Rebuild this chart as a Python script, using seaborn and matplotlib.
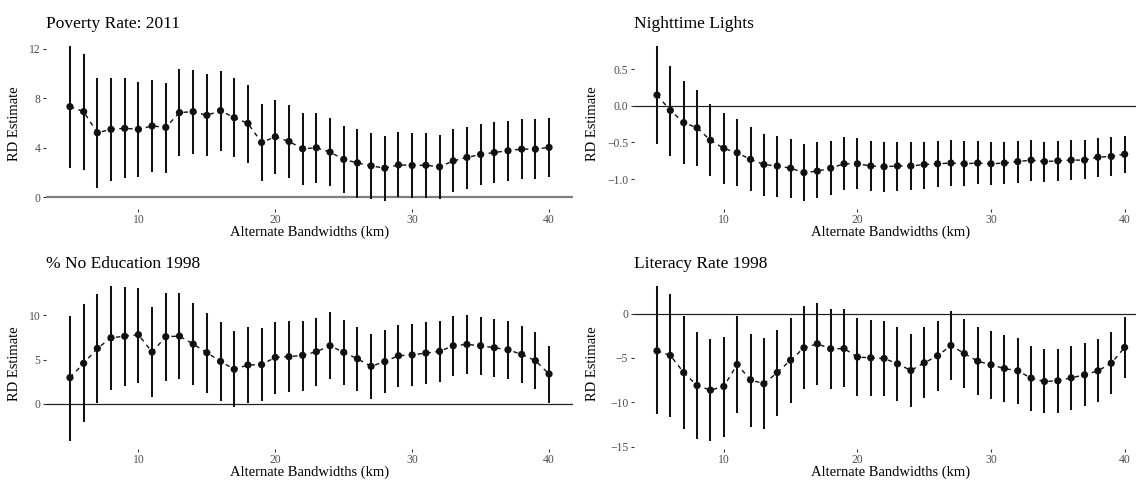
import numpy as np
import pandas as pd
import matplotlib
matplotlib.use("Agg")
import matplotlib.pyplot as plt
import seaborn as sns

# Bandwidths (km)
bandwidths = list(range(5, 41))

# Poverty Rate: 2011
poverty_est = [7.32, 6.92, 5.21, 5.49, 5.57, 5.49, 5.76, 5.65, 6.84, 6.92, 6.62, 7.00,
               6.43, 5.97, 4.43, 4.89, 4.51, 3.92, 4.00, 3.65, 3.06, 2.78, 2.54, 2.35,
               2.62, 2.57, 2.59, 2.46, 2.94, 3.22, 3.46, 3.62, 3.76, 3.89, 3.89, 4.03]
poverty_lo = [2.38, 2.19, 0.79, 1.30, 1.57, 1.65, 2.05, 2.00, 3.35, 3.49, 3.35, 3.76,
              3.27, 2.81, 1.35, 1.89, 1.57, 1.03, 1.16, 0.89, 0.35, -0.05, -0.16, -0.32,
              0.00, -0.08, -0.03, -0.16, 0.43, 0.70, 0.97, 1.19, 1.30, 1.46, 1.46, 1.65]
poverty_hi = [12.20, 11.57, 9.60, 9.65, 9.60, 9.30, 9.46, 9.22, 10.38, 10.30, 9.92, 10.24,
              9.65, 9.06, 7.52, 7.89, 7.43, 6.79, 6.79, 6.43, 5.76, 5.49, 5.16, 4.97,
              5.24, 5.16, 5.16, 5.03, 5.49, 5.70, 5.92, 6.06, 6.16, 6.30, 6.30, 6.41]

# Nighttime Lights
lights_est = [0.146, -0.063, -0.23, -0.30, -0.47, -0.58, -0.64, -0.73, -0.80, -0.82, -0.85, -0.91,
              -0.89, -0.85, -0.79, -0.79, -0.82, -0.83, -0.82, -0.82, -0.80, -0.79, -0.78, -0.79,
              -0.78, -0.79, -0.78, -0.76, -0.74, -0.76, -0.75, -0.74, -0.74, -0.70, -0.69, -0.66]
lights_lo = [-0.52, -0.68, -0.79, -0.82, -0.96, -1.06, -1.09, -1.16, -1.23, -1.24, -1.25, -1.30,
             -1.26, -1.22, -1.15, -1.14, -1.16, -1.17, -1.16, -1.15, -1.13, -1.10, -1.09, -1.09,
             -1.07, -1.08, -1.07, -1.05, -1.02, -1.04, -1.03, -1.01, -1.00, -0.97, -0.95, -0.92]
lights_hi = [0.81, 0.54, 0.34, 0.22, 0.02, -0.10, -0.18, -0.29, -0.38, -0.41, -0.45, -0.52,
             -0.50, -0.48, -0.42, -0.44, -0.48, -0.50, -0.50, -0.50, -0.49, -0.48, -0.47, -0.48,
             -0.48, -0.50, -0.50, -0.48, -0.46, -0.49, -0.48, -0.47, -0.47, -0.44, -0.43, -0.41]

# % No Education 1998
noedu_est = [2.96, 4.57, 6.25, 7.45, 7.62, 7.80, 5.84, 7.57, 7.64, 6.74, 5.77, 4.79,
             3.90, 4.38, 4.42, 5.24, 5.32, 5.47, 5.88, 6.55, 5.81, 5.09, 4.23, 4.76,
             5.43, 5.51, 5.73, 5.92, 6.55, 6.70, 6.55, 6.33, 6.10, 5.58, 4.87, 3.37]
noedu_lo = [-4.16, -2.10, 0.07, 1.54, 2.06, 2.40, 0.75, 2.58, 2.81, 2.13, 1.27, 0.37,
            -0.37, 0.15, 0.34, 1.09, 1.31, 1.50, 2.02, 2.77, 2.10, 1.42, 0.60, 1.20,
            1.95, 2.02, 2.28, 2.43, 3.15, 3.33, 3.22, 3.03, 2.81, 2.32, 1.69, 0.07]
noedu_hi = [9.93, 11.24, 12.36, 13.26, 13.15, 13.07, 10.94, 12.55, 12.55, 11.39, 10.26, 9.18,
            8.20, 8.61, 8.58, 9.21, 9.33, 9.36, 9.70, 10.30, 9.48, 8.69, 7.83, 8.31,
            8.88, 8.95, 9.18, 9.33, 9.89, 10.00, 9.81, 9.59, 9.36, 8.76, 8.05, 6.52]

# Literacy Rate 1998
literacy_est = [-4.20, -4.72, -6.64, -8.10, -8.62, -8.21, -5.74, -7.46, -7.91, -6.64, -5.25, -3.86,
                -3.41, -3.97, -3.94, -4.90, -4.99, -5.06, -5.66, -6.41, -5.55, -4.76, -3.60, -4.50,
                -5.36, -5.77, -6.19, -6.45, -7.27, -7.65, -7.57, -7.24, -6.90, -6.45, -5.59, -3.82]
literacy_lo = [-11.36, -11.62, -12.94, -14.10, -14.32, -13.87, -11.14, -12.75, -13.01, -11.55, -10.05, -8.51,
               -7.99, -8.55, -8.32, -9.26, -9.30, -9.30, -9.86, -10.50, -9.52, -8.74, -7.50, -8.36,
               -9.19, -9.60, -9.97, -10.16, -10.99, -11.25, -11.14, -10.84, -10.46, -9.94, -9.07, -7.27]
literacy_hi = [3.07, 2.14, -0.26, -2.10, -2.85, -2.66, -0.30, -2.25, -2.81, -1.80, -0.56, 0.82,
               1.20, 0.56, 0.49, -0.56, -0.75, -0.86, -1.50, -2.32, -1.57, -0.82, 0.30, -0.60,
               -1.50, -1.95, -2.44, -2.70, -3.60, -3.97, -3.94, -3.67, -3.34, -2.89, -2.10, -0.37]

titles = ["Poverty Rate: 2011", "Nighttime Lights", "% No Education 1998", "Literacy Rate 1998"]
yticks = [[0, 4, 8, 12], [-1.0, -0.5, 0.0, 0.5], [0, 5, 10], [-15, -10, -5, 0]]
ytick_fmt = ["{:.0f}", "{:.1f}", "{:.0f}", "{:.0f}"]
xticks = [10, 20, 30, 40]

series = [
    (poverty_est, poverty_lo, poverty_hi),
    (lights_est, lights_lo, lights_hi),
    (noedu_est, noedu_lo, noedu_hi),
    (literacy_est, literacy_lo, literacy_hi),
]

sns.set_style("white")
plt.rcParams["font.family"] = ["Liberation Serif", "DejaVu Serif"]
plt.rcParams["axes.unicode_minus"] = True

W, H = 1136, 483
fig = plt.figure(figsize=(W / 100, H / 100), dpi=100)

# panel boxes in pixels: (left, top, right, bottom)
boxes = [(46, 38.5, 573, 209), (633.6, 38.5, 1148, 209),
         (46, 278.5, 573, 448.5), (633.6, 278.5, 1148, 448.5)]

tick_grey = "#4d4d4d"
ink = "#111111"
for i, (est, lo, hi) in enumerate(series):
    l, t, r, b = boxes[i]
    ax = fig.add_axes([l / W, 1 - b / H, (r - l) / W, (b - t) / H])
    df = pd.DataFrame({"bw": bandwidths, "est": est, "lo": lo, "hi": hi})

    # reference line at zero
    if i == 0:
        ax.axhline(0, color="#7f7f7f", lw=1.6, zorder=1)
    else:
        ax.axhline(0, color="#222222", lw=0.9, zorder=1)

    ax.vlines(df["bw"], df["lo"], df["hi"], color=ink, lw=1.45, zorder=2)
    sns.lineplot(data=df, x="bw", y="est", ax=ax, color=ink, lw=1.0,
                 linestyle=(0, (3.2, 3.2)), zorder=3)
    sns.scatterplot(data=df, x="bw", y="est", ax=ax, color=ink, s=27,
                    edgecolor="none", zorder=4)

    # 5% expansion on both axes
    ymin = min(df["lo"].min(), 0)
    ymax = max(df["hi"].max(), 0)
    pad = 0.05 * (ymax - ymin)
    ax.set_ylim(ymin - pad, ymax + pad)
    ax.set_xlim(5 - 0.05 * 35, 40 + 0.05 * 35)

    ax.set_xticks(xticks)
    ax.set_yticks(yticks[i])
    ax.set_yticklabels([ytick_fmt[i].format(v).replace("-", "\u2212") for v in yticks[i]])
    for s in ax.spines.values():
        s.set_visible(False)
    ax.tick_params(axis="both", which="major", length=2.4, width=0.8, color="#333333",
                   labelcolor=tick_grey, labelsize=8.4, pad=1.5,
                   left=True, bottom=True)

    ax.set_xlabel("Alternate Bandwidths (km)", fontsize=10.5, color="black")
    ax.set_ylabel("RD Estimate", fontsize=10.5, color="black")
    ax.xaxis.set_label_coords(0.5, -23.5 / (b - t))
    ax.xaxis.label.set_va("center")
    ylab_x = 15 if l < 300 else 592
    ax.yaxis.set_label_coords((ylab_x - l) / (r - l), 0.5)
    ax.yaxis.label.set_va("center")

    ax.text(0.0, 1 + 10.5 / (b - t), titles[i], transform=ax.transAxes,
            ha="left", va="baseline", fontsize=12.5, color="black")

fig.savefig("out.png", dpi=100)
